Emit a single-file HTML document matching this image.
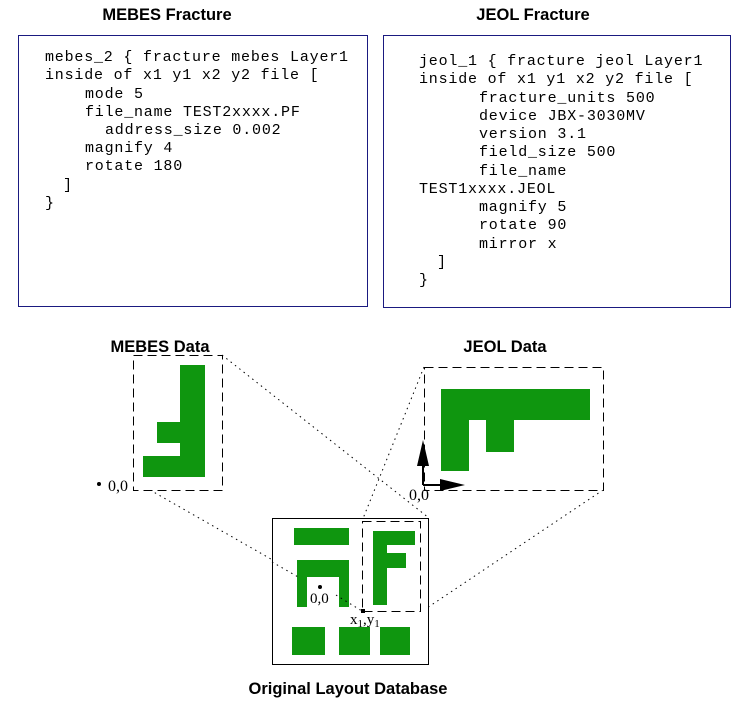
<!DOCTYPE html>
<html><head><meta charset="utf-8"><style>
html,body{margin:0;padding:0;background:#fff;}
svg{display:block;}
.t{font-family:"Liberation Sans",sans-serif;font-weight:bold;font-size:16.5px;fill:#000;}
.m{font-family:"Liberation Mono",monospace;font-size:15px;letter-spacing:0.8px;fill:#000;}
.s{font-family:"Liberation Serif",serif;font-size:16px;fill:#000;}
</style></head><body>
<svg width="743" height="708" viewBox="0 0 743 708" xmlns="http://www.w3.org/2000/svg">
<text class="t" x="167" y="20" text-anchor="middle">MEBES Fracture</text>
<text class="t" x="533" y="20" text-anchor="middle">JEOL Fracture</text>
<rect x="18.5" y="35.5" width="349" height="271" fill="none" stroke="#1a1a80" stroke-width="1"/>
<rect x="383.5" y="35.5" width="347" height="272" fill="none" stroke="#1a1a80" stroke-width="1"/>
<g class="m">
<text x="45" y="61">mebes_2 { fracture mebes Layer1</text>
<text x="45" y="79">inside of x1 y1 x2 y2 file [</text>
<text x="85" y="98">mode 5</text>
<text x="85" y="116">file_name TEST2xxxx.PF</text>
<text x="105" y="134">address_size 0.002</text>
<text x="85" y="152">magnify 4</text>
<text x="85" y="170">rotate 180</text>
<text x="63" y="189">]</text>
<text x="45" y="207">}</text>

<text x="419" y="65">jeol_1 { fracture jeol Layer1</text>
<text x="419" y="83">inside of x1 y1 x2 y2 file [</text>
<text x="479" y="102">fracture_units 500</text>
<text x="479" y="120">device JBX-3030MV</text>
<text x="479" y="138">version 3.1</text>
<text x="479" y="156">field_size 500</text>
<text x="479" y="175">file_name</text>
<text x="419" y="193">TEST1xxxx.JEOL</text>
<text x="479" y="211">magnify 5</text>
<text x="479" y="229">rotate 90</text>
<text x="479" y="248">mirror x</text>
<text x="437" y="266">]</text>
<text x="419" y="284">}</text>
</g>

<text class="t" x="160" y="352" text-anchor="middle">MEBES Data</text>
<text class="t" x="505" y="352" text-anchor="middle">JEOL Data</text>
<text class="t" x="348" y="694" text-anchor="middle">Original Layout Database</text>

<g stroke="#000" stroke-width="1" stroke-dasharray="1.5,4" fill="none">
<line x1="222" y1="355" x2="429" y2="518"/>
<line x1="150" y1="490" x2="362" y2="611"/>
<line x1="424" y1="367" x2="362" y2="521"/>
<line x1="603" y1="490" x2="421" y2="612"/>
</g>

<rect x="133.5" y="355.5" width="89" height="135" fill="#fff" stroke="#000" stroke-dasharray="9,5"/>
<g fill="#0f960f">
<rect x="180" y="365" width="25" height="112"/>
<rect x="157" y="422" width="23" height="21"/>
<rect x="143" y="456" width="62" height="21"/>
</g>
<circle cx="99" cy="484" r="2" fill="#000"/>
<text class="s" x="108" y="491">0,0</text>

<rect x="424.5" y="367.5" width="179" height="123" fill="#fff" stroke="#000" stroke-dasharray="9,5"/>
<g fill="#0f960f">
<rect x="441" y="389" width="149" height="31"/>
<rect x="441" y="420" width="28" height="51"/>
<rect x="486" y="420" width="28" height="32"/>
</g>
<line x1="423" y1="485" x2="423" y2="455" stroke="#000" stroke-width="2"/>
<polygon points="423,440 417,466 429,466" fill="#000"/>
<line x1="423" y1="485" x2="445" y2="485" stroke="#000" stroke-width="2"/>
<polygon points="465,485 440,479 440,491" fill="#000"/>
<text class="s" x="409" y="500">0,0</text>

<rect x="272.5" y="518.5" width="156" height="146" fill="#fff" stroke="#000"/>
<g fill="#0f960f">
<rect x="294" y="528" width="55" height="17"/>
<rect x="297" y="560" width="52" height="17"/>
<rect x="297" y="577" width="10" height="30"/>
<rect x="339" y="577" width="10" height="30"/>
<rect x="373" y="531" width="14" height="74"/>
<rect x="373" y="531" width="42" height="14"/>
<rect x="373" y="553" width="33" height="15"/>
<rect x="292" y="627" width="33" height="28"/>
<rect x="339" y="627" width="31" height="28"/>
<rect x="380" y="627" width="30" height="28"/>
</g>
<g stroke="#000" stroke-width="1" stroke-dasharray="1.5,4" fill="none">
<line x1="272" y1="562" x2="300" y2="578"/>
<line x1="336" y1="595" x2="362" y2="611"/>
</g>
<rect x="362.5" y="521.5" width="58" height="90" fill="none" stroke="#000" stroke-dasharray="9,5"/>
<rect x="361" y="609" width="4" height="4" fill="#000"/>
<circle cx="320" cy="587" r="2" fill="#000"/>
<text class="s" x="310" y="603" style="font-size:15px">0,0</text>
<text class="s" x="350" y="624" style="font-size:15px">x<tspan dy="3" font-size="11">1</tspan><tspan dy="-3">,y</tspan><tspan dy="3" font-size="11">1</tspan></text>
</svg>
</body></html>
